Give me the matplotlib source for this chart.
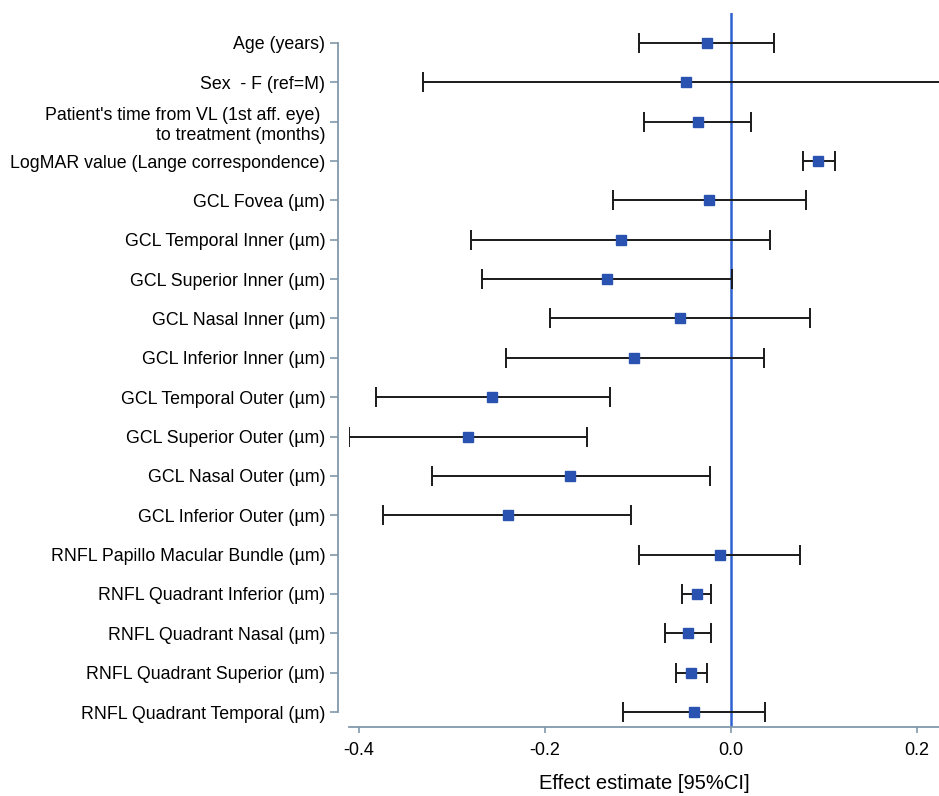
import matplotlib.pyplot as plt

labels = ["Age (years)",
          "Sex  - F (ref=M)",
          "Patient's time from VL (1st aff. eye) \nto treatment (months)",
          "LogMAR value (Lange correspondence)",
          "GCL Fovea (µm)",
          "GCL Temporal Inner (µm)",
          "GCL Superior Inner (µm)",
          "GCL Nasal Inner (µm)",
          "GCL Inferior Inner (µm)",
          "GCL Temporal Outer (µm)",
          "GCL Superior Outer (µm)",
          "GCL Nasal Outer (µm)",
          "GCL Inferior Outer (µm)",
          "RNFL Papillo Macular Bundle (µm)",
          "RNFL Quadrant Inferior (µm)",
          "RNFL Quadrant Nasal (µm)",
          "RNFL Quadrant Superior (µm)",
          "RNFL Quadrant Temporal (µm)"]

estimate = [-0.026, -0.048, -0.035, 0.094, -0.024, -0.118, -0.133, -0.055, -0.104,
            -0.257, -0.283, -0.173, -0.240, -0.012, -0.037, -0.046, -0.043, -0.040]
lower = [-0.099, -0.331, -0.094, 0.077, -0.127, -0.280, -0.268, -0.195, -0.242,
         -0.382, -0.411, -0.322, -0.374, -0.099, -0.053, -0.071, -0.059, -0.116]
upper = [0.046, 0.260, 0.022, 0.112, 0.081, 0.042, 0.001, 0.085, 0.035,
         -0.130, -0.155, -0.023, -0.107, 0.074, -0.022, -0.022, -0.026, 0.037]

xticks = [-0.4, -0.2, 0.0, 0.2]
xticklabels = ["-0.4", "-0.2", "0.0", "0.2"]

plt.rcParams['font.family'] = ['Liberation Sans', 'DejaVu Sans']

W, H = 939, 796
fig = plt.figure(figsize=(W / 100, H / 100), dpi=100)
ax = fig.add_axes([349 / W, 1 - 727 / H, (939 - 349) / W, (727 - 13) / H])

spine_col = "#8198aa"
ypos = list(range(len(labels)))
err_lo = [e - l for e, l in zip(estimate, lower)]
err_hi = [u - e for e, u in zip(estimate, upper)]

ax.axvline(0, color="#2f62d0", lw=1.8, zorder=1)
ax.errorbar(estimate, ypos, xerr=[err_lo, err_hi], fmt="none", ecolor="#1a1a1a",
            elinewidth=1.4, capsize=7.5, capthick=1.4, zorder=2)
ax.plot(estimate, ypos, "s", color="#2a52b0", markersize=7.5, zorder=3)

ax.set_xlim(-0.4108, 0.2237)
ax.set_ylim(len(labels) - 1 + 0.381, -0.762)

for s in ["top", "right"]:
    ax.spines[s].set_visible(False)
ax.spines["left"].set_position(("outward", 8))
ax.spines["left"].set_bounds(0, len(labels) - 1)
ax.spines["left"].set_color(spine_col)
ax.spines["bottom"].set_color(spine_col)
ax.spines["left"].set_linewidth(1.3)
ax.spines["bottom"].set_linewidth(1.3)
ax.tick_params(axis="y", length=6, width=1.2, color=spine_col, pad=3, labelsize=12.8)
ax.tick_params(axis="x", length=4.5, width=1.2, color=spine_col, pad=6, labelsize=13)

ax.set_yticks(ypos)
ax.set_yticklabels(labels, fontsize=12.8, linespacing=1.25)
ax.set_xticks(xticks)
ax.set_xticklabels(xticklabels, fontsize=13)
ax.set_xlabel("Effect estimate [95%CI]", fontsize=14.5, labelpad=11)

fig.savefig("out.png", dpi=100)
